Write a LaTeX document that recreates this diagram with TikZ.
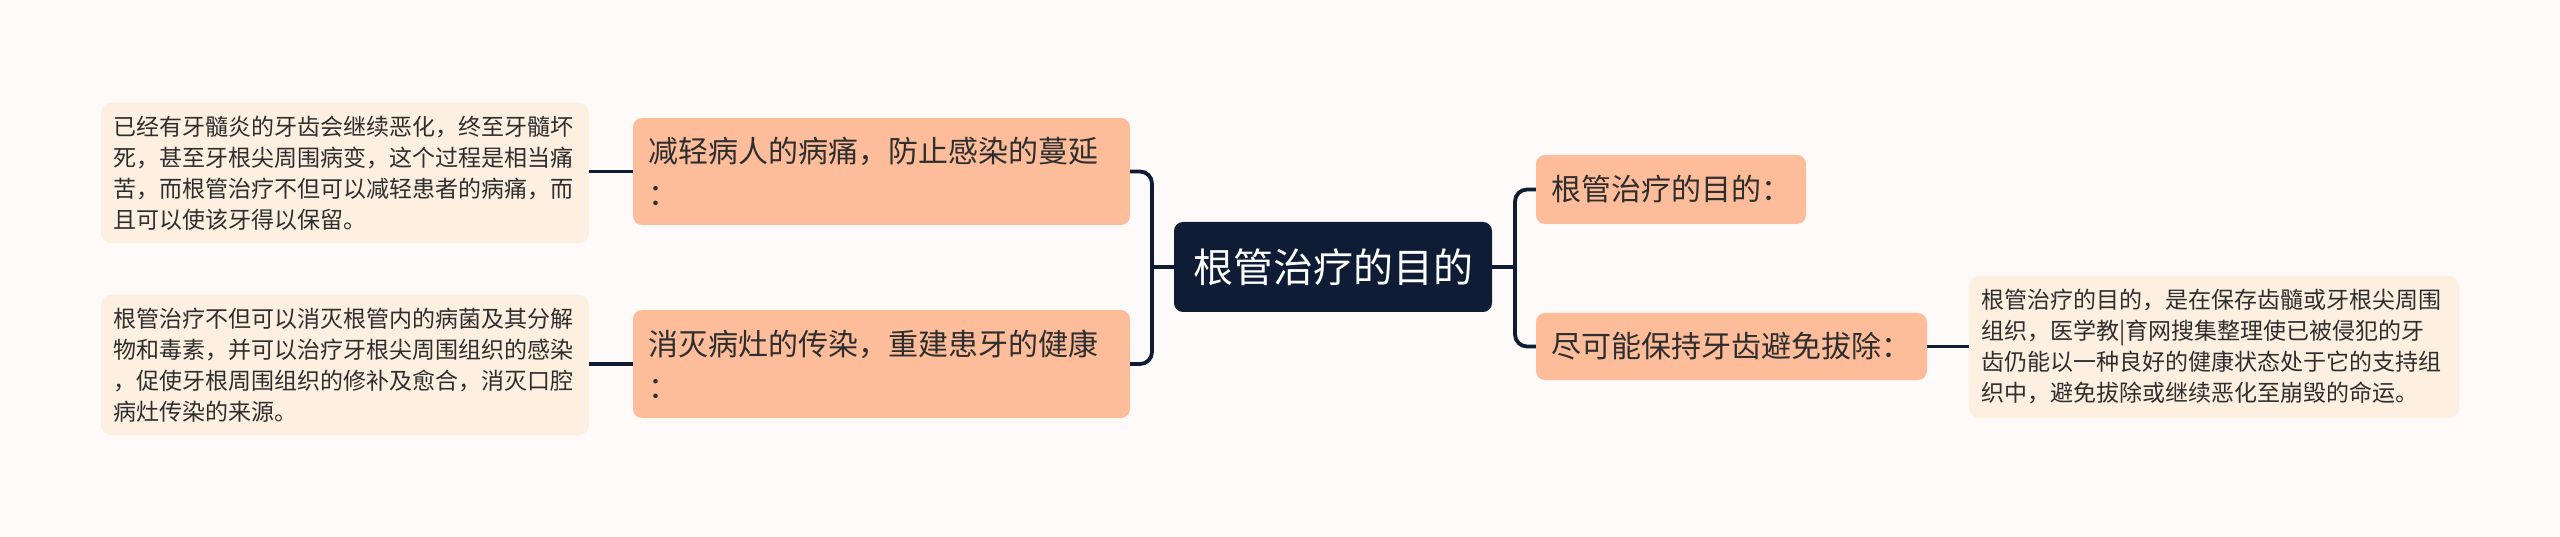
\documentclass[tikz,border=0pt]{standalone}
\usepackage{fontspec}
\setmainfont{Noto Sans CJK SC}
\definecolor{bgcol}{HTML}{FDFAF9}
\definecolor{branchfill}{HTML}{FDBD9B}
\definecolor{leaffill}{HTML}{FEF0E1}
\definecolor{rootfill}{HTML}{0E1D35}
\definecolor{linecol}{HTML}{0E1D35}
\definecolor{txtcol}{HTML}{2E2E2E}
\begin{document}
\begin{tikzpicture}[x=1pt,y=-1pt,
  conn/.style={draw=linecol,line width=3.8pt,rounded corners=12pt},
  leafbox/.style={rectangle,rounded corners=10pt,fill=leaffill,text=txtcol,inner xsep=12pt,inner ysep=0pt,text width=464pt,align=left,minimum height=140pt,font=\fontsize{23}{31}\selectfont},
  branchbox/.style={rectangle,rounded corners=9pt,fill=branchfill,text=txtcol,inner xsep=15pt,inner ysep=0pt,align=left,font=\fontsize{30}{43}\selectfont},
  rootbox/.style={rectangle,rounded corners=9pt,fill=rootfill,text=white,inner xsep=19pt,inner ysep=0pt,minimum width=318pt,minimum height=90pt,font=\fontsize{40}{48}\selectfont}]
\fill[bgcol] (0,0) rectangle (2560,537);
\useasboundingbox (0,0) rectangle (2560,537);

\node[rootbox] (root) at (1333,267) {根管治疗的目的};

\node[branchbox,text width=467pt,minimum height=107pt] (L1) at (881.5,171.5) {减轻病人的病痛，防止感染的蔓延\\：};
\node[branchbox,text width=467pt,minimum height=108pt] (L2) at (881.5,364) {消灭病灶的传染，重建患牙的健康\\：};
\node[branchbox,minimum width=270pt,minimum height=69pt] (R1) at (1671,189.5) {根管治疗的目的：};
\node[branchbox,minimum width=391pt,minimum height=67pt] (R2) at (1731.5,346.5) {尽可能保持牙齿避免拔除：};

\node[leafbox] (leaf1) at (345,173) {已经有牙髓炎的牙齿会继续恶化，终至牙髓坏\\死，甚至牙根尖周围病变，这个过程是相当痛\\苦，而根管治疗不但可以减轻患者的病痛，而\\且可以使该牙得以保留。};
\node[leafbox] (leaf2) at (345,365) {根管治疗不但可以消灭根管内的病菌及其分解\\物和毒素，并可以治疗牙根尖周围组织的感染\\，促使牙根周围组织的修补及愈合，消灭口腔\\病灶传染的来源。};
\node[leafbox,text width=466pt,minimum height=142pt] (leafR) at (2214,347) {根管治疗的目的，是在保存齿髓或牙根尖周围\\组织，医学教|育网搜集整理使已被侵犯的牙\\齿仍能以一种良好的健康状态处于它的支持组\\织中，避免拔除或继续恶化至崩毁的命运。};

\coordinate (lj) at (1152,267);
\coordinate (rj) at (1515,267);
\draw[conn] (L1.east) -| (lj) |- (L2.east);
\draw[conn] (root.west) -- (lj);
\draw[conn] (R1.west) -| (rj) |- (R2.west);
\draw[conn] (root.east) -- (rj);
\draw[conn] (L1.west) -- (L1.west -| leaf1.east);
\draw[conn] (L2.west) -- (L2.west -| leaf2.east);
\draw[conn] (R2.east) -- (R2.east -| leafR.west);
\end{tikzpicture}
\end{document}
